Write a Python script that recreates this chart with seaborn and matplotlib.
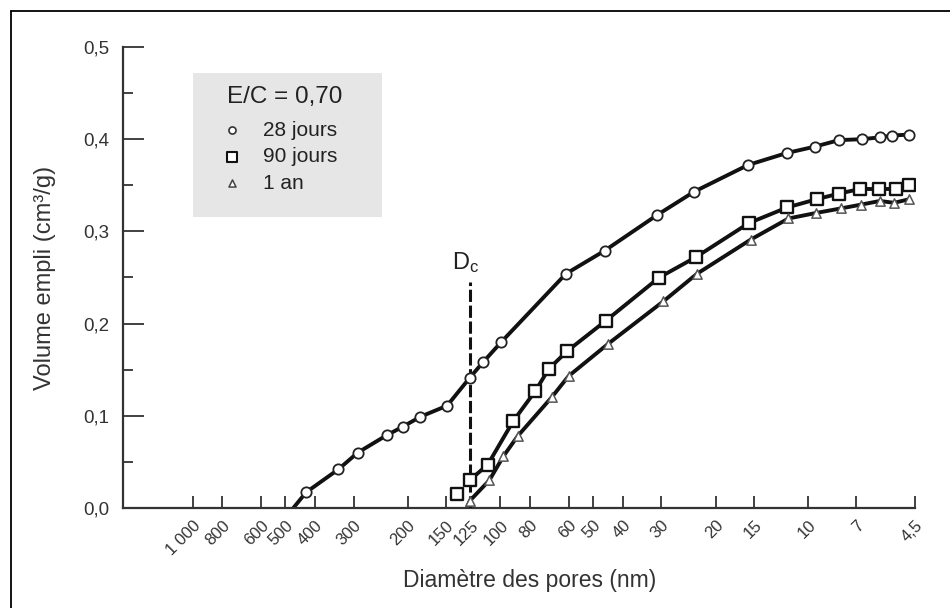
import numpy as np
import pandas as pd
import matplotlib
matplotlib.use("Agg")
import matplotlib.pyplot as plt
from matplotlib.patches import Rectangle
from matplotlib.lines import Line2D
from matplotlib.ticker import FixedLocator, NullLocator, MultipleLocator, FuncFormatter
import seaborn as sns

# ---------------- data ----------------
d28 = [428, 336, 291, 234, 208, 182, 149, 126, 114, 99.4, 61.3, 45.9, 30.9, 23.5,
       15.7, 11.75, 9.5, 7.95, 6.7, 5.85, 5.33, 4.71]
v28 = [0.017, 0.042, 0.060, 0.079, 0.088, 0.099, 0.111, 0.141, 0.158, 0.180, 0.254,
       0.279, 0.318, 0.343, 0.372, 0.385, 0.392, 0.399, 0.400, 0.402, 0.404, 0.405]
start28 = (471, 0.0)

d90 = [138, 126, 110, 91, 77, 69.6, 60.8, 45.5, 30.5, 23.2, 15.6, 11.7, 9.37, 7.95,
       6.79, 5.88, 5.2, 4.70]
v90 = [0.015, 0.030, 0.047, 0.094, 0.127, 0.151, 0.170, 0.203, 0.250, 0.272, 0.309,
       0.326, 0.335, 0.341, 0.346, 0.346, 0.346, 0.350]

d1an = [125.6, 108.7, 97.9, 87.9, 68.2, 60.1, 44.7, 29.6, 23.0, 15.4, 11.6, 9.43,
        7.81, 6.75, 5.85, 5.26, 4.69]
v1an = [0.008, 0.030, 0.056, 0.078, 0.120, 0.143, 0.178, 0.224, 0.254, 0.291, 0.314,
        0.320, 0.325, 0.329, 0.333, 0.331, 0.335]
start1an = (128.5, 0.0)

dc_value = 126
dc_top = 0.245

xticks = [1000, 800, 600, 500, 400, 300, 200, 150, 125, 100, 80, 60, 50, 40, 30,
          20, 15, 10, 7, 4.5]
xticklabels = ["1 000", "800", "600", "500", "400", "300", "200", "150", "125", "100",
               "80", "60", "50", "40", "30", "20", "15", "10", "7", "4,5"]
series_names = ["28 jours", "90 jours", "1 an"]
legend_title = "E/C = 0,70"

# ---------------- style ----------------
sns.set_theme(style="ticks")
plt.rcParams["font.family"] = ["Liberation Sans", "DejaVu Sans"]
plt.rcParams["mathtext.fontset"] = "custom"
plt.rcParams["mathtext.rm"] = "Liberation Sans"
plt.rcParams["mathtext.it"] = "Liberation Sans:italic"

W, H = 950, 608
fig = plt.figure(figsize=(W / 100, H / 100), dpi=100)
fig.patch.set_facecolor("white")
ax_left, ax_right, ax_top, ax_bot = 123, 915, 47, 508
ax = fig.add_axes([ax_left / W, 1 - ax_bot / H, (ax_right - ax_left) / W, (ax_bot - ax_top) / H])
ax.set_facecolor("white")

# figure border (top and left visible)
fig.add_artist(Line2D([11 / W, 11 / W], [0, 1 - 11 / H], transform=fig.transFigure,
                      color="black", lw=1.3))
fig.add_artist(Line2D([11 / W, 1], [1 - 11 / H, 1 - 11 / H], transform=fig.transFigure,
                      color="black", lw=1.3))

line_kw = dict(color="#111111", linewidth=2.8, estimator=None, sort=False, legend=False)

# lines
sns.lineplot(x=[start28[0]] + d28, y=[start28[1]] + v28, ax=ax, **line_kw)
sns.lineplot(x=d90[1:], y=v90[1:], ax=ax, **line_kw)
sns.lineplot(x=[start1an[0]] + d1an, y=[start1an[1]] + v1an, ax=ax, **line_kw)

# markers
sns.scatterplot(x=d28, y=v28, ax=ax, marker="o", s=55, facecolor="white",
                edgecolor="#222222", linewidth=1.3, zorder=5, legend=False)
sns.scatterplot(x=d90, y=v90, ax=ax, marker="s", s=82, facecolor="white",
                edgecolor="#111111", linewidth=1.7, zorder=5, legend=False)
sns.scatterplot(x=d1an, y=v1an, ax=ax, marker="^", s=45, facecolor="white",
                edgecolor="#555555", linewidth=1.1, zorder=5, legend=False)

# Dc line
ax.plot([dc_value, dc_value], [0, dc_top], color="#111111", lw=2.2,
        linestyle=(0, (4, 1.2)), zorder=3)
ax.text(dc_value * 1.03, dc_top + 0.008, r"D$_\mathrm{c}$", ha="center", va="bottom",
        fontsize=17, color="#222222")

# axes
ax.set_xscale("log")
ax.set_xlim(1684, 4.5)
ax.set_ylim(0, 0.5)
ax.xaxis.set_major_locator(FixedLocator(xticks))
ax.xaxis.set_minor_locator(NullLocator())
ax.set_xticks(xticks)
ax.set_xticklabels(xticklabels, rotation=45, ha="right", va="top",
                   rotation_mode="anchor", fontsize=12, color="#333333")
ax.yaxis.set_major_locator(MultipleLocator(0.1))
ax.yaxis.set_minor_locator(MultipleLocator(0.05))
ax.yaxis.set_major_formatter(FuncFormatter(lambda v, p: f"{v:.1f}".replace(".", ",")))
ax.tick_params(axis="y", which="major", direction="in", length=15, width=1.3,
               colors="#333333", pad=10, labelsize=13.5, labelcolor="#333333")
ax.tick_params(axis="y", which="minor", direction="in", length=7.5, width=1.3,
               colors="#333333")
ax.tick_params(axis="x", which="major", direction="in", length=8.5, width=1.3,
               colors="#333333", pad=7, labelcolor="#333333")
sns.despine(ax=ax, top=True, right=True)
for s in ["left", "bottom"]:
    ax.spines[s].set_linewidth(1.6)
    ax.spines[s].set_color("#333333")

ax.set_xlabel("Diamètre des pores (nm)", fontsize=16.5, color="#333333")
ax.set_ylabel("Volume empli (cm³/g)", fontsize=17, color="#333333")
ax.xaxis.set_label_coords((530 - ax_left) / (ax_right - ax_left), -(580 - ax_bot) / (ax_bot - ax_top))
ax.yaxis.set_label_coords(-(123 - 45) / (ax_right - ax_left), 0.5)
ax.xaxis.label.set_va("center")
ax.yaxis.label.set_va("center")

# legend box
def px2ax(x, y):
    return ((x - ax_left) / (ax_right - ax_left), (ax_bot - y) / (ax_bot - ax_top))

bx0, by0 = px2ax(193, 217)
bx1, by1 = px2ax(382, 73)
ax.add_patch(Rectangle((bx0, by0), bx1 - bx0, by1 - by0, transform=ax.transAxes,
                       facecolor="#e6e6e6", edgecolor="none", zorder=1))
tx, ty = px2ax(285, 97)
ax.text(tx, ty, legend_title, transform=ax.transAxes, ha="center", va="center",
        fontsize=17.5, color="#222222", zorder=6)
leg_markers = [dict(marker="o", s=26, lw=1.2, ec="#333333"),
               dict(marker="s", s=42, lw=1.5, ec="#111111"),
               dict(marker="^", s=26, lw=1.1, ec="#444444")]
for i, (name, mk) in enumerate(zip(series_names, leg_markers)):
    yy = 130 + i * 26.7
    mx, my = px2ax(232, yy)
    ax.scatter([mx], [my], transform=ax.transAxes, marker=mk["marker"], s=mk["s"],
               facecolor="white", edgecolor=mk["ec"], linewidths=mk["lw"], zorder=6,
               clip_on=False)
    lx, ly = px2ax(263, yy)
    ax.text(lx, ly, name, transform=ax.transAxes, ha="left", va="center",
            fontsize=15, color="#222222", zorder=6)

fig.savefig("out.png", dpi=100, facecolor="white")
